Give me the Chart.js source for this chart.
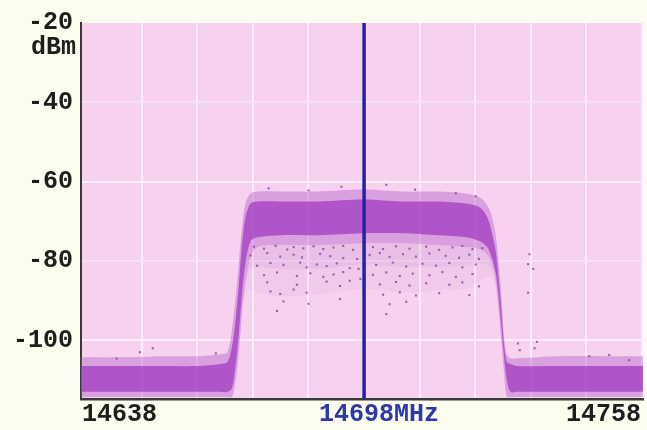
<!DOCTYPE html>
<html>
<head>
<meta charset="utf-8">
<title>Spectrum 14698 MHz</title>
<script src="https://cdn.jsdelivr.net/npm/chart.js"></script>
<style>
  html, body { margin: 0; padding: 0; background: #fcfcef; }
  #wrap { width: 647px; height: 430px; }
</style>
</head>
<body>
<div id="wrap"><canvas id="spec" width="647" height="430"></canvas></div>
<script>
// Axis ticks
const freqTicks = [14638, 14650, 14662, 14674, 14686, 14698, 14710, 14722, 14734, 14746, 14758];
const levelTicks = [-20, -40, -60, -80, -100];
const markerFreq = 14698;
const freqLabels = ['14638', '14698MHz', '14758'];
const unitLabel = 'dBm';

// Trace envelope (MHz / dBm): outer spread, dense core and the thin scatter below the channel top
const envFreq = [14636.9, 14645, 14655, 14662, 14667, 14668.5, 14669.5, 14670.3, 14671.0, 14671.6,
  14672.4, 14673.5, 14675, 14680, 14688, 14698, 14706, 14714, 14720, 14723,
  14724.6, 14725.5, 14726.4, 14727.0, 14727.6, 14728.2, 14728.8, 14729.6, 14731, 14740,
  14750, 14758.2];
const outerTop = [-104.3, -104.3, -104, -104, -103.5, -103, -97, -89, -80, -72,
  -65.5, -63, -62.5, -62.5, -62.5, -62, -62.5, -62.5, -63, -64,
  -66, -68.5, -73.5, -80, -88, -99, -103.5, -104.5, -104.5, -104,
  -104, -104];
const outerBottom = [-114.3, -114.3, -114.3, -114.3, -114.3, -114.3, -114.3, -110, -103, -94,
  -85.5, -79, -76.5, -76, -76, -75.5, -75.5, -76, -76.5, -77,
  -78.5, -80.5, -85, -92, -100, -108, -114.3, -114.3, -114.3, -114.3,
  -114.3, -114.3];
const coreTop = [-106.5, -106.5, -106.5, -106.5, -106, -105.5, -101.5, -94.5, -85.5, -76.5,
  -69, -65.5, -65, -65, -65, -64.5, -65, -65, -65.5, -66.5,
  -69, -72.5, -77.5, -84, -92, -101, -105.5, -106, -106.5, -106.5,
  -106.5, -106.5];
const coreBottom = [-113, -113, -113, -113, -113, -113, -112, -106, -98, -89,
  -80.5, -75, -74, -73.5, -73.5, -73, -73, -73.5, -74, -75,
  -76.5, -79, -83, -88.5, -96, -104, -110, -113, -113, -113,
  -113, -113];
// lower limits of the thinning scatter under the channel top: heavier part, then the sparse tail
const scatterMid = [-114.3, -114.3, -114.3, -114.3, -114.3, -114.3, -114.3, -110, -103, -94,
  -86, -82, -81.5, -82, -82, -81, -81.5, -81.5, -81, -80.5,
  -81, -82, -86, -92, -100, -108, -114.3, -114.3, -114.3, -114.3,
  -114.3, -114.3];
const scatterLow = [-114.3, -114.3, -114.3, -114.3, -114.3, -114.3, -114.3, -110, -103, -94,
  -88, -87, -88, -89, -88.5, -87, -88, -87.5, -87, -85,
  -84, -84.5, -87, -92, -100, -108, -114.3, -114.3, -114.3, -114.3,
  -114.3, -114.3];

// Isolated samples outside the dense trace (MHz, dBm)
const sparseFreq = [
  14674.2, 14676.4, 14678.9, 14681.4, 14682.8, 14684.9, 14687.1, 14689.2, 14691.4, 14693.5, 14695.6,
  14673.5, 14677.1, 14679.9, 14682.8, 14684.6, 14688.5, 14690.7, 14693.5,
  14674.9, 14677.8, 14680.6, 14684.2, 14685.6, 14687.8, 14689.9, 14692.1, 14694.9,
  14676.4, 14679.2, 14683.5, 14686.4, 14689.2, 14691.4, 14693.5,
  14677.1, 14683.5, 14689.9, 14692.8, 14694.9,
  14677.8, 14679.9, 14682.8, 14685.6,
  14680.6, 14686.0, 14692.8,
  14679.2,
  14699.9, 14702.1, 14704.9, 14707.8, 14711.4, 14714.2, 14717.1, 14719.2, 14721.4, 14723.5,
  14699.2, 14701.4, 14703.5, 14706.4, 14709.2, 14712.1, 14715.6, 14718.5, 14720.7, 14722.8,
  14700.6, 14704.2, 14707.1, 14710.6, 14713.5, 14716.4, 14719.2, 14722.1,
  14699.9, 14702.8, 14705.7, 14708.5, 14712.1, 14714.9, 14717.8, 14721.4,
  14701.4, 14704.9, 14707.8, 14711.4, 14716.4, 14719.2, 14722.8,
  14702.1, 14705.7, 14709.2, 14714.2, 14720.7,
  14703.5, 14707.1,
  14702.8,
  14696.5, 14697.2, 14696.8,
  14677.4, 14693.1, 14702.8, 14717.8, 14722.1, 14686.0, 14709.0,
  14644.6, 14652.4, 14649.6, 14666.0, 14735.3, 14731.6, 14746.6, 14750.9, 14755.2, 14731.2, 14734.8,
  14733.7, 14733.4, 14733.4, 14734.5
];
const sparseLevel = [
  -76.4, -76.9, -76.2, -77.1, -76.5, -76.8, -76.3, -77.0, -76.6, -76.2, -77.2,
  -78.6, -78.0, -78.9, -78.4, -79.1, -78.2, -78.8, -79.3,
  -81.2, -80.5, -81.0, -80.4, -81.6, -80.9, -81.3, -80.6, -81.8,
  -83.6, -82.9, -83.8, -83.1, -84.0, -83.4, -82.8,
  -85.4, -86.0, -85.2, -86.3, -85.0,
  -87.7, -88.3, -87.2, -88.0,
  -90.2, -90.8, -89.6,
  -92.6,
  -76.5, -77.0, -76.3, -76.9, -76.4, -77.2, -76.6, -76.2, -77.0, -76.8,
  -78.5, -78.0, -79.0, -78.3, -78.9, -78.1, -78.7, -79.2, -78.4, -79.5,
  -81.0, -80.4, -81.4, -80.7, -81.2, -80.5, -81.6, -80.9,
  -83.5, -82.9, -83.8, -83.2, -83.6, -82.8, -84.0, -83.3,
  -85.9, -85.3, -86.2, -85.6, -86.0, -85.4, -86.4,
  -88.5, -87.9, -88.7, -88.1, -88.6,
  -90.9, -90.3,
  -93.4,
  -79.5, -84.5, -82.0,
  -61.7, -61.3, -60.8, -62.9, -63.7, -62.2, -62.0,
  -104.6, -102.0, -103.0, -103.3, -100.4, -102.5, -104.0, -103.7, -105.0, -100.8, -102.0,
  -78.3, -80.8, -88.0, -82.0
];

const pts = (xs, ys) => xs.map((x, i) => ({ x: x, y: ys[i] }));

const X_MIN = 14636.9, X_MAX = 14758.2;
const Y_MIN = -114.8, Y_MAX = -20;

const PLOT_BG = '#f6d2ee';
const PAGE_BG = '#fcfcef';
const GRID = '#fbeefa';
const GRID_FAINT = '#f8e0f4';
const TEXT = '#1e1e1e';
const MARKER = '#2222a2';
const MARKER_TEXT = '#2d38aa';
const LABEL_FONT = '"Liberation Mono", "DejaVu Sans Mono", monospace';
const FONT_SIZE = 25;

const framePlugin = {
  id: 'frame',
  beforeDraw(chart) {
    const { ctx, chartArea: a } = chart;
    ctx.save();
    ctx.fillStyle = PAGE_BG;
    ctx.fillRect(0, 0, chart.width, chart.height);
    ctx.fillStyle = PLOT_BG;
    ctx.fillRect(a.left, a.top, a.right - a.left, a.bottom - a.top);
    ctx.restore();
  },
  afterDraw(chart) {
    const { ctx, chartArea: a } = chart;
    const x = chart.scales.x;
    const y = chart.scales.y;
    ctx.save();
    ctx.font = 'bold ' + FONT_SIZE + 'px ' + LABEL_FONT;
    ctx.textBaseline = 'middle';
    // unit under the top level label
    ctx.fillStyle = TEXT;
    ctx.textAlign = 'right';
    ctx.fillText(unitLabel, y.right - 5, y.getPixelForValue(Y_MAX) + 25);
    // frequency labels: span ends and the marker frequency
    const ly = a.bottom + 16;
    ctx.textAlign = 'left';
    ctx.fillText(freqLabels[0], a.left + 1, ly);
    ctx.textAlign = 'right';
    ctx.fillText(freqLabels[2], a.right - 2, ly);
    ctx.fillStyle = MARKER_TEXT;
    ctx.textAlign = 'left';
    ctx.fillText(freqLabels[1], x.getPixelForValue(markerFreq) - 45, ly);
    ctx.restore();
  }
};

const bandLine = { borderWidth: 0, pointRadius: 0, tension: 0.3, type: 'line' };

new Chart(document.getElementById('spec'), {
  type: 'scatter',
  data: {
    datasets: [
      {
        label: 'marker', type: 'line', order: 0,
        data: [{ x: markerFreq, y: Y_MAX }, { x: markerFreq, y: Y_MIN }],
        borderColor: MARKER, borderWidth: 3.5, pointRadius: 0, fill: false
      },
      {
        label: 'samples', order: 1,
        data: pts(sparseFreq, sparseLevel),
        pointStyle: 'rect', pointRadius: 1.5, borderWidth: 0,
        backgroundColor: 'rgba(140, 62, 165, 0.8)'
      },
      Object.assign({ label: 'outer top', order: 5, data: pts(envFreq, outerTop), fill: false }, bandLine),
      Object.assign({ label: 'outer bottom', order: 5, data: pts(envFreq, outerBottom),
        fill: '-1', backgroundColor: 'rgba(176, 88, 202, 0.42)' }, bandLine),
      Object.assign({ label: 'core top', order: 3, data: pts(envFreq, coreTop), fill: false }, bandLine),
      Object.assign({ label: 'core bottom', order: 3, data: pts(envFreq, coreBottom),
        fill: '-1', backgroundColor: 'rgba(162, 60, 194, 0.75)' }, bandLine),
      Object.assign({ label: 'scatter heavy', order: 6, data: pts(envFreq, scatterMid),
        fill: 3, backgroundColor: 'rgba(168, 86, 190, 0.09)' }, bandLine),
      Object.assign({ label: 'scatter tail', order: 7, data: pts(envFreq, scatterLow),
        fill: 3, backgroundColor: 'rgba(168, 86, 190, 0.06)' }, bandLine)
    ]
  },
  options: {
    responsive: false,
    animation: false,
    events: [],
    layout: { padding: { left: 13, top: 20, right: 2, bottom: 4 } },
    plugins: { legend: { display: false }, tooltip: { enabled: false } },
    scales: {
      x: {
        type: 'linear', min: X_MIN, max: X_MAX,
        afterBuildTicks(scale) { scale.ticks = freqTicks.map(v => ({ value: v })); },
        afterFit(scale) { scale.height = 27; },
        grid: {
          drawTicks: false, lineWidth: 2,
          color: ctx => (ctx.index === 0 ? 'rgba(0,0,0,0)' : GRID)
        },
        border: { color: '#3a3a3a', width: 2.5 },
        ticks: { display: false }
      },
      y: {
        type: 'linear', min: Y_MIN, max: Y_MAX,
        afterBuildTicks(scale) { scale.ticks = levelTicks.map(v => ({ value: v })); },
        afterFit(scale) { scale.width = 68; },
        grid: {
          drawTicks: false, lineWidth: 2,
          color: ctx => {
            const v = ctx.tick ? ctx.tick.value : null;
            if (v === -20) return 'rgba(0,0,0,0)';
            return (v === -40 || v === -80) ? GRID_FAINT : GRID;
          }
        },
        border: { color: '#3a3a3a', width: 2 },
        ticks: {
          padding: 8,
          font: { family: LABEL_FONT, size: FONT_SIZE, weight: 'bold' },
          color: TEXT,
          callback: v => String(v)
        }
      }
    }
  },
  plugins: [framePlugin]
});
</script>
</body>
</html>
